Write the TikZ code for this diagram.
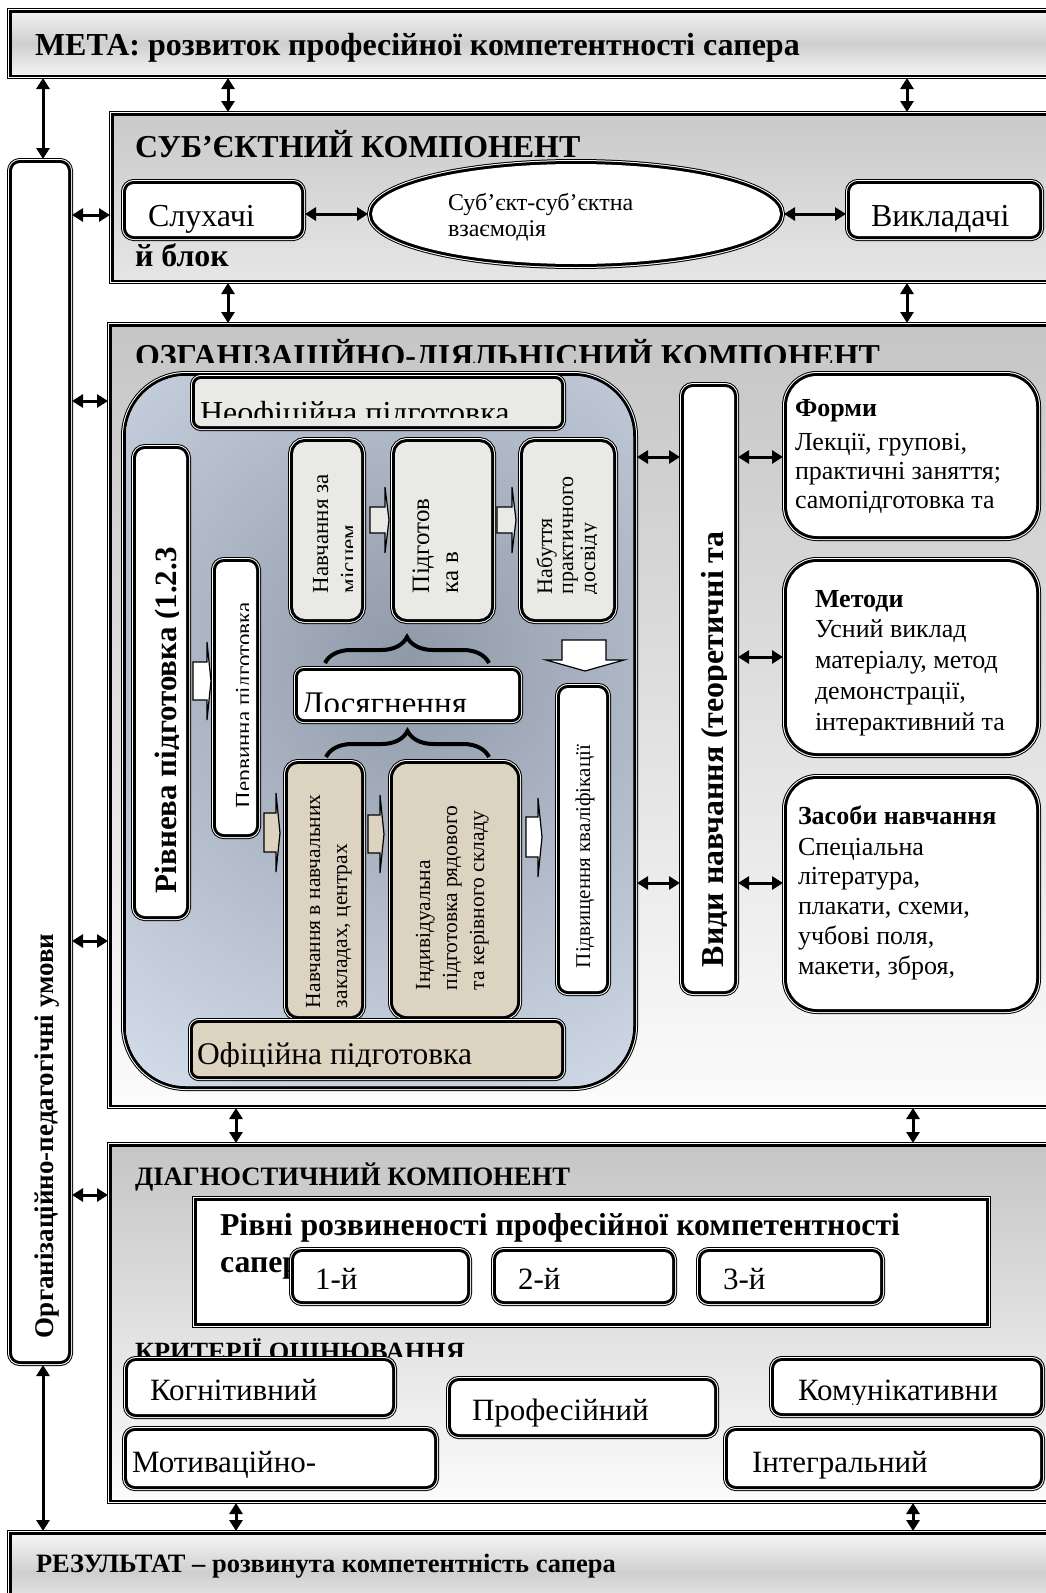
\documentclass[tikz,border=0pt]{standalone}
\usepackage{fontspec}
\setmainfont{Liberation Serif}
\usetikzlibrary{arrows.meta,shapes.geometric,decorations.pathreplacing,fit}
\definecolor{blueL}{HTML}{D5DFEC}
\definecolor{blueD}{HTML}{8F99A8}
\definecolor{lgray}{HTML}{E9E9E5}
\definecolor{tanbox}{HTML}{DDD3C1}
\newcommand{\fsz}[1]{\fontsize{#1}{#1}\selectfont}
\begin{document}
\begin{tikzpicture}[x=1pt,y=-1pt,
  dbl/.style={preaction={draw=black,line width=10pt},preaction={draw=white,line width=8pt},preaction={draw=black,line width=6pt}},
  bx/.style={dbl, inner sep=0pt, outer sep=0pt},
  tx/.style={anchor=base west, inner sep=0pt, outer sep=0pt},
  dar/.style={{Triangle[length=11pt,width=13pt]}-{Triangle[length=11pt,width=13pt]}, line width=3pt, shorten >=4pt, shorten <=4pt},
  blk/.style={draw=black, line width=1.2pt, line join=miter},
  brc/.style={line width=4pt, decorate},
]
\useasboundingbox (0,0) rectangle (1046,1593);

% ---------- META ----------
\node[bx, fit={(12,13)(1064,74)}, top color=gray!12, bottom color=gray!10, middle color=gray!38] (meta) {};
\node[tx, font=\fsz{32}\bfseries] (metat) at (35,55) {МЕТА: розвиток професійної компетентності сапера};

% ---------- left box ----------
\node[bx, fit={(12,163)(68,1361)}, rounded corners=8pt, fill=white] (lbox) {};
\node[tx, rotate=90, font=\fsz{27}\bfseries] (lboxt) at (53,1338) {Організаційно-педагогічні умови};

% ---------- SUB ----------
\node[bx, fit={(114,116)(1064,279)}, top color=gray!42, bottom color=gray!20] (sub) {};
\node[tx, font=\fsz{31.9}\bfseries] (subt) at (135,157) {СУБ’ЄКТНИЙ КОМПОНЕНТ};
\node[tx, font=\fsz{31.9}\bfseries] (blok) at (135,266) {й блок};
\node[bx, fit={(126,184)(301,236)}, rounded corners=8pt, fill=white] (slu) {};
\node[tx, font=\fsz{32}] (slut) at (148,226) {Слухачі};
\node[bx, ellipse, minimum width=408pt, minimum height=100pt, fill=white] (ell) at (576,214) {};
\node[tx, font=\fsz{24}] (ell1) at (448,210) {Суб’єкт-суб’єктна};
\node[tx, font=\fsz{24}] (ell2) at (448,236) {взаємодія};
\node[bx, fit={(850,184)(1039,236)}, rounded corners=8pt, fill=white] (vyk) {};
\node[tx, font=\fsz{32}] (vykt) at (871,226) {Викладачі};

\draw[dar] (slu.east |- ell.west) -- (ell.west);
\draw[dar] (ell.east) -- (vyk.west |- ell.east);
\draw[dar] (lbox.east |- 0,215) -- (sub.west |- 0,215);
\draw[dar] (meta.south -| 228,0) -- (sub.north -| 228,0);
\draw[dar] (meta.south -| 907,0) -- (sub.north -| 907,0);
\draw[dar] (meta.south -| 43,0) -- (lbox.north -| 43,0);

% ---------- ORG ----------
\node[bx, fit={(112,327)(1064,1104)}, top color=gray!45, bottom color=gray!3] (org) {};
\begin{scope}
\clip (112,327) rectangle (1064,362);
\node[tx, font=\fsz{31.9}\bfseries] (orgt) at (135,366) {ОЗГАНІЗАЦІЙНО-ДІЯЛЬНІСНИЙ КОМПОНЕНТ};
\end{scope}
\draw[dar] (sub.south -| 228,0) -- (org.north -| 228,0);
\draw[dar] (sub.south -| 907,0) -- (org.north -| 907,0);
\draw[dar] (lbox.east |- 0,401) -- (org.west |- 0,401);
\draw[dar] (lbox.east |- 0,941) -- (org.west |- 0,941);

% blue rounded area
\node[bx, fit={(126,376)(633,1086)}, rounded corners=60pt, fill=blueL] (blue) {};
\begin{scope}
\clip[rounded corners=60pt] (126,376) rectangle (633,1086);
\shade[inner color=blueD, outer color=blueL] (410,660) circle (520);
\end{scope}

% Неофіційна
\node[bx, fit={(195,379)(561,426)}, rounded corners=6pt, fill=lgray] (neo) {};
\begin{scope}
\clip (195,379) rectangle (561,417);
\node[tx, font=\fsz{32}] (neot) at (200,423) {Неофіційна підготовка};
\end{scope}

% Рівнева
\node[bx, fit={(136,449)(186,916)}, rounded corners=9pt, fill=white] (riv) {};
\begin{scope}
\clip (136,449) rectangle (178,916);
\node[tx, rotate=90, font=\fsz{31}\bfseries] (rivt) at (176,893) {Рівнева підготовка (1.2.3};
\end{scope}

% Первинна
\node[bx, fit={(216,562)(256,834)}, rounded corners=8pt, fill=white] (per) {};
\begin{scope}
\clip (216,562) rectangle (248,834);
\node[tx, rotate=90, font=\fsz{23}] (pert) at (251,808) {Первинна підготовка};
\end{scope}
\draw[blk, fill=white] (193,662) -- (207,662) -- (207,642) -- (211,681) -- (207,720) -- (207,700) -- (193,700) -- cycle;

% top three boxes
\node[bx, fit={(293,442)(361,619)}, rounded corners=12pt, fill=lgray] (na) {};
\begin{scope}
\clip (293,442) rectangle (352,619);
\node[tx, rotate=90, font=\fsz{23}] (nat1) at (328,593) {Навчання за};
\node[tx, rotate=90, font=\fsz{23}] (nat2) at (356,593) {місцем};
\end{scope}
\node[bx, fit={(395,442)(491,619)}, rounded corners=12pt, fill=lgray] (pk) {};
\node[tx, rotate=90, font=\fsz{25}] (pkt1) at (429,593) {Підготов};
\node[tx, rotate=90, font=\fsz{25}] (pkt2) at (458,593) {ка в};
\node[bx, fit={(523,442)(613,619)}, rounded corners=12pt, fill=lgray] (nb) {};
\begin{scope}
\clip (523,442) rectangle (596,619);
\node[tx, rotate=90, font=\fsz{22}] (nbt1) at (552,594) {Набуття};
\node[tx, rotate=90, font=\fsz{22}] (nbt2) at (573,594) {практичного};
\node[tx, rotate=90, font=\fsz{22}] (nbt3) at (595,594) {досвіду};
\end{scope}
\draw[blk, fill=lgray] (370,507) -- (385,507) -- (385,487) -- (389,520) -- (385,553) -- (385,533) -- (370,533) -- cycle;
\draw[blk, fill=lgray] (497,507) -- (512,507) -- (512,487) -- (516,520) -- (512,553) -- (512,533) -- (497,533) -- cycle;

% braces and Досягнення
\draw[brc, decoration={brace, amplitude=26pt}] (325,663) -- (489,663);
\node[bx, fit={(298,671)(518,719)}, rounded corners=6pt, fill=white] (dos) {};
\begin{scope}
\clip (298,671) rectangle (518,711);
\node[tx, font=\fsz{33}] (dost) at (301,714) {Досягнення};
\end{scope}
\draw[brc, decoration={brace, amplitude=26pt}] (326,757) -- (489,757);

% down arrow
\draw[blk, fill=white] (562,640) -- (606,640) -- (606,660) -- (624,660) -- (585,671) -- (546,660) -- (562,660) -- cycle;

% Підвищення
\node[bx, fit={(560,688)(606,991)}, rounded corners=8pt, fill=white] (pdv) {};
\node[tx, rotate=90, font=\fsz{21}] (pdvt) at (590,968) {Підвищення кваліфікації};

% tan boxes
\node[bx, fit={(288,764)(361,1016)}, rounded corners=10pt, fill=tanbox] (nvz) {};
\node[tx, rotate=90, font=\fsz{21.5}] (nvz1) at (320,1008) {Навчання в навчальних};
\node[tx, rotate=90, font=\fsz{21.5}] (nvz2) at (347,1008) {закладах, центрах};
\node[bx, fit={(393,764)(517,1016)}, rounded corners=14pt, fill=tanbox] (ind) {};
\node[tx, rotate=90, font=\fsz{21.5}] (ind1) at (430,990) {Індивідуальна};
\node[tx, rotate=90, font=\fsz{21.5}] (ind2) at (457,990) {підготовка рядового};
\node[tx, rotate=90, font=\fsz{21.5}] (ind3) at (484,990) {та керівного складу};
\draw[blk, fill=tanbox] (264,813) -- (276,813) -- (276,793) -- (280,833) -- (276,872) -- (276,852) -- (264,852) -- cycle;
\draw[blk, fill=tanbox] (368,815) -- (380,815) -- (380,795) -- (384,834) -- (380,873) -- (380,853) -- (368,853) -- cycle;
\draw[blk, fill=white] (526,817) -- (538,817) -- (538,798) -- (542,837) -- (538,877) -- (538,857) -- (526,857) -- cycle;

% Офіційна
\node[bx, fit={(193,1023)(561,1076)}, rounded corners=6pt, fill=tanbox] (ofi) {};
\begin{scope}
\clip (193,1023) rectangle (561,1066);
\node[tx, font=\fsz{31.5}] (ofit) at (197,1064) {Офіційна підготовка};
\end{scope}

% Види навчання
\node[bx, fit={(684,387)(734,991)}, rounded corners=9pt, fill=white] (vyd) {};
\begin{scope}
\clip (684,387) rectangle (726,991);
\node[tx, rotate=90, font=\fsz{31.9}\bfseries] (vydt) at (723,967) {Види навчання (теоретичні та};
\end{scope}

% right boxes
\node[bx, fit={(787,376)(1036,536)}, rounded corners=30pt, fill=white] (frm) {};
\node[tx, font=\fsz{26}\bfseries] (frm0) at (795,416) {Форми};
\node[tx, font=\fsz{26}] (frm1) at (795,450) {Лекції, групові,};
\node[tx, font=\fsz{26}] (frm2) at (795,479) {практичні заняття;};
\node[tx, font=\fsz{26}] (frm3) at (795,508) {самопідготовка та};

\node[bx, fit={(787,562)(1036,753)}, rounded corners=30pt, fill=white] (met) {};
\node[tx, font=\fsz{26}\bfseries] (met0) at (815,607) {Методи};
\node[tx, font=\fsz{26}] (met1) at (815,637) {Усний виклад};
\node[tx, font=\fsz{26}] (met2) at (815,668) {матеріалу, метод};
\node[tx, font=\fsz{26}] (met3) at (815,699) {демонстрації,};
\node[tx, font=\fsz{26}] (met4) at (815,730) {інтерактивний та};

\node[bx, fit={(787,779)(1036,1009)}, rounded corners=30pt, fill=white] (zas) {};
\node[tx, font=\fsz{26}\bfseries] (zas0) at (798,824) {Засоби навчання};
\node[tx, font=\fsz{26}] (zas1) at (798,855) {Спеціальна};
\node[tx, font=\fsz{26}] (zas2) at (798,884) {література,};
\node[tx, font=\fsz{26}] (zas3) at (798,914) {плакати, схеми,};
\node[tx, font=\fsz{26}] (zas4) at (798,944) {учбові поля,};
\node[tx, font=\fsz{26}] (zas5) at (798,974) {макети, зброя,};

\draw[dar] (blue.east |- 0,457) -- (vyd.west |- 0,457);
\draw[dar] (vyd.east |- 0,457) -- (frm.west |- 0,457);
\draw[dar] (vyd.east |- 0,657) -- (met.west |- 0,657);
\draw[dar] (vyd.east |- 0,883) -- (zas.west |- 0,883);
\draw[dar] (blue.east |- 0,883) -- (vyd.west |- 0,883);

% ---------- DIAG ----------
\node[bx, fit={(112,1147)(1064,1499)}, top color=gray!45, bottom color=gray!3] (dia) {};
\draw[dar] (org.south -| 236,0) -- (dia.north -| 236,0);
\draw[dar] (org.south -| 913,0) -- (dia.north -| 913,0);
\draw[dar] (lbox.east |- 0,1195) -- (dia.west |- 0,1195);
\node[tx, font=\fsz{26.6}\bfseries] (diat) at (135,1185) {ДІАГНОСТИЧНИЙ КОМПОНЕНТ};
\node[bx, fit={(197,1201)(986,1323)}, fill=white] (rvn) {};
\node[tx, font=\fsz{31.8}\bfseries] (rvn1) at (220,1235) {Рівні розвиненості професійної компетентності};
\node[tx, font=\fsz{31.8}\bfseries] (rvn2) at (220,1272) {сапера};
\node[bx, fit={(294,1252)(467,1301)}, rounded corners=8pt, fill=white] (lv1) {};
\node[tx, font=\fsz{31}] (lv1t) at (315,1289) {1-й};
\node[bx, fit={(496,1252)(672,1301)}, rounded corners=8pt, fill=white] (lv2) {};
\node[tx, font=\fsz{31}] (lv2t) at (518,1289) {2-й};
\node[bx, fit={(701,1252)(880,1301)}, rounded corners=8pt, fill=white] (lv3) {};
\node[tx, font=\fsz{31}] (lv3t) at (723,1289) {3-й};
\begin{scope}
\clip (112,1147) rectangle (1064,1356);
\node[tx, font=\fsz{26.3}\bfseries] (krt) at (135,1360) {КРИТЕРІЇ ОЦІНЮВАННЯ};
\end{scope}
\node[bx, fit={(128,1361)(392,1414)}, rounded corners=8pt, fill=white] (kog) {};
\node[tx, font=\fsz{31}] (kogt) at (150,1400) {Когнітивний};
\node[bx, fit={(451,1381)(714,1434)}, rounded corners=8pt, fill=white] (prf) {};
\node[tx, font=\fsz{31}] (prft) at (472,1420) {Професійний};
\node[bx, fit={(774,1361)(1040,1413)}, rounded corners=8pt, fill=white] (kom) {};
\begin{scope}
\clip (774,1361) rectangle (1040,1404);
\node[tx, font=\fsz{31}] (komt) at (798,1400) {Комунікативни};
\end{scope}
\node[bx, fit={(127,1431)(434,1486)}, rounded corners=8pt, fill=white] (mot) {};
\node[tx, font=\fsz{31}] (mott) at (132,1472) {Мотиваційно-};
\node[bx, fit={(728,1431)(1040,1486)}, rounded corners=8pt, fill=white] (itg) {};
\node[tx, font=\fsz{31}] (itgt) at (752,1472) {Інтегральний};

% ---------- RESULT ----------
\node[bx, fit={(12,1535)(1064,1610)}, top color=gray!8, bottom color=gray!12, middle color=gray!38] (res) {};
\node[tx, font=\fsz{26.5}\bfseries] (rest) at (36,1572) {РЕЗУЛЬТАТ – розвинута компетентність сапера};
\draw[dar] (dia.south -| 236,0) -- (res.north -| 236,0);
\draw[dar] (dia.south -| 913,0) -- (res.north -| 913,0);
\draw[dar] (lbox.south -| 43,0) -- (res.north -| 43,0);
\end{tikzpicture}
\end{document}
